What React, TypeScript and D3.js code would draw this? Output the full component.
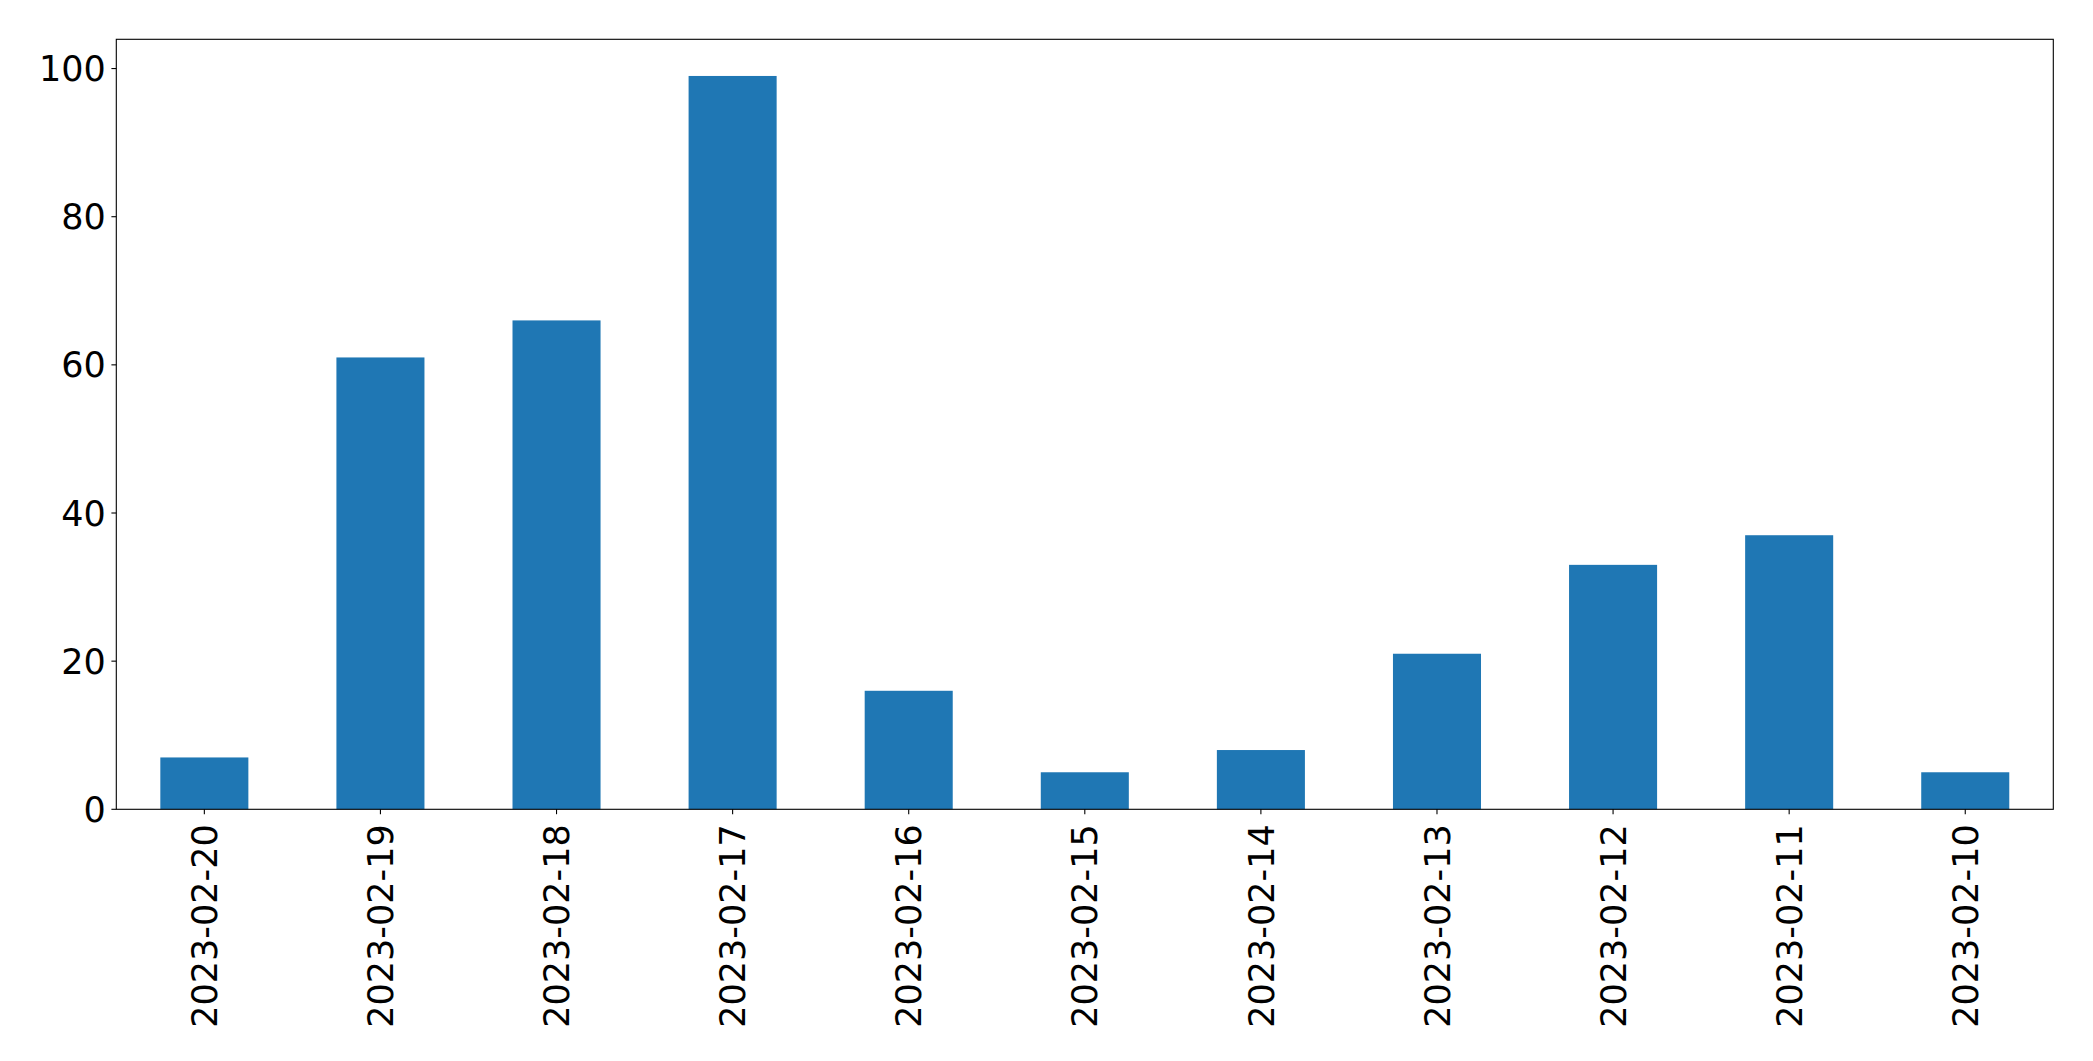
import React, { useEffect } from "react";
import * as d3 from "d3";

const categories = [
  "2023-02-20", "2023-02-19", "2023-02-18", "2023-02-17", "2023-02-16",
  "2023-02-15", "2023-02-14", "2023-02-13", "2023-02-12", "2023-02-11", "2023-02-10",
];
const values = [7, 61, 66, 99, 16, 5, 8, 21, 33, 37, 5];
const yTicks = [0, 20, 40, 60, 80, 100];

const W = 2093;
const H = 1061;
const M = { left: 116.3, right: 2053.3, top: 39.3, bottom: 809.3 };
const FONT = "DejaVu Sans, sans-serif";
const FS = 35;

export default function App() {
  useEffect(() => {
    document.body.style.margin = "0";
  }, []);

  const n = categories.length;
  const x = d3.scaleLinear().domain([-0.5, n - 0.5]).range([M.left, M.right]);
  const yMax = d3.max(values)! * 1.05;
  const y = d3.scaleLinear().domain([0, yMax]).range([M.bottom, M.top]);
  const bw = x(0.25) - x(-0.25);

  return (
    <svg width={W} height={H} style={{ position: "absolute", left: 0, top: 0, background: "#fff" }}>
      {values.map((v, i) => (
        <rect key={i} x={x(i) - bw / 2} y={y(v)} width={bw} height={y(0) - y(v)} fill="#1f77b4" />
      ))}
      <rect x={M.left} y={M.top} width={M.right - M.left} height={M.bottom - M.top}
        fill="none" stroke="#000" strokeWidth={1.1} />
      {yTicks.map((t) => (
        <g key={t}>
          <line x1={M.left - 4.9} x2={M.left} y1={y(t)} y2={y(t)} stroke="#000" strokeWidth={1.1} />
          <text x={M.left - 10.5} y={y(t)} dy="0.36em" textAnchor="end" fontFamily={FONT} fontSize={FS} fill="#000">
            {t}
          </text>
        </g>
      ))}
      {categories.map((c, i) => (
        <g key={c}>
          <line x1={x(i)} x2={x(i)} y1={M.bottom} y2={M.bottom + 4.9} stroke="#000" strokeWidth={1.1} />
          <text transform={`translate(${x(i)},${M.bottom + 15})rotate(-90)`} dy="0.36em" textAnchor="end"
            fontFamily={FONT} fontSize={FS} fill="#000">
            {c}
          </text>
        </g>
      ))}
    </svg>
  );
}
